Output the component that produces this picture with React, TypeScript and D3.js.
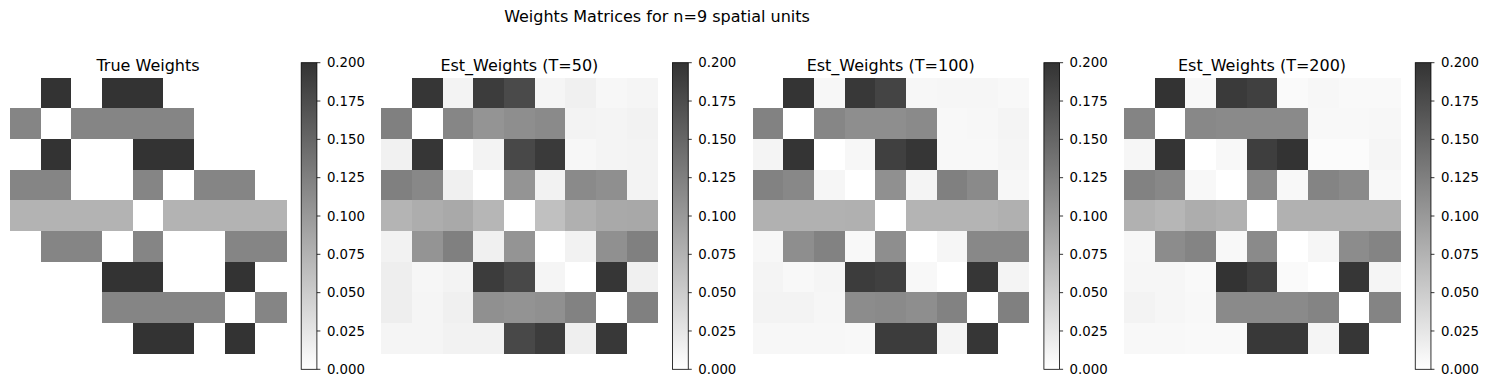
import React from 'react'
import * as d3 from 'd3'

// values read against the colorbar (0 .. 0.200)
const trueWeights = [
  [0, 0.2, 0, 0.2, 0.2, 0, 0, 0, 0],
  [0.12, 0, 0.12, 0.12, 0.12, 0.12, 0, 0, 0],
  [0, 0.2, 0, 0, 0.2, 0.2, 0, 0, 0],
  [0.12, 0.12, 0, 0, 0.12, 0, 0.12, 0.12, 0],
  [0.075, 0.075, 0.075, 0.075, 0, 0.075, 0.075, 0.075, 0.075],
  [0, 0.12, 0.12, 0, 0.12, 0, 0, 0.12, 0.12],
  [0, 0, 0, 0.2, 0.2, 0, 0, 0.2, 0],
  [0, 0, 0, 0.12, 0.12, 0.12, 0.12, 0, 0.12],
  [0, 0, 0, 0, 0.2, 0.2, 0, 0.2, 0]
]

const estT50 = [
  [0, 0.197, 0.012, 0.191, 0.177, 0.010, 0.015, 0.008, 0.010],
  [0.125, 0, 0.119, 0.105, 0.111, 0.115, 0.012, 0.011, 0.013],
  [0.014, 0.197, 0, 0.012, 0.179, 0.193, 0.008, 0.011, 0.012],
  [0.125, 0.117, 0.015, 0, 0.105, 0.013, 0.115, 0.110, 0.012],
  [0.074, 0.080, 0.084, 0.072, 0, 0.062, 0.077, 0.084, 0.085],
  [0.013, 0.105, 0.125, 0.015, 0.105, 0, 0.013, 0.109, 0.125],
  [0.017, 0.009, 0.012, 0.191, 0.179, 0.010, 0, 0.197, 0.015],
  [0.017, 0.010, 0.015, 0.109, 0.106, 0.109, 0.123, 0, 0.125],
  [0.010, 0.010, 0.013, 0.013, 0.179, 0.191, 0.016, 0.195, 0]
]

const estT100 = [
  [0, 0.199, 0.008, 0.195, 0.183, 0.008, 0.009, 0.009, 0.007],
  [0.123, 0, 0.119, 0.111, 0.111, 0.115, 0.007, 0.008, 0.011],
  [0.011, 0.199, 0, 0.008, 0.187, 0.197, 0.007, 0.007, 0.010],
  [0.123, 0.117, 0.009, 0, 0.109, 0.011, 0.125, 0.115, 0.008],
  [0.076, 0.076, 0.076, 0.077, 0, 0.074, 0.074, 0.074, 0.077],
  [0.008, 0.111, 0.123, 0.007, 0.111, 0, 0.009, 0.117, 0.117],
  [0.011, 0.007, 0.010, 0.191, 0.187, 0.007, 0, 0.197, 0.011],
  [0.012, 0.012, 0.009, 0.113, 0.115, 0.111, 0.123, 0, 0.125],
  [0.008, 0.008, 0.008, 0.007, 0.191, 0.191, 0.011, 0.197, 0]
]

const estT200 = [
  [0, 0.200, 0.007, 0.193, 0.187, 0.005, 0.008, 0.006, 0.006],
  [0.121, 0, 0.117, 0.115, 0.115, 0.115, 0.007, 0.007, 0.008],
  [0.009, 0.199, 0, 0.007, 0.189, 0.200, 0.004, 0.004, 0.010],
  [0.123, 0.117, 0.007, 0, 0.115, 0.007, 0.121, 0.115, 0.007],
  [0.076, 0.072, 0.080, 0.076, 0, 0.076, 0.076, 0.076, 0.076],
  [0.008, 0.113, 0.121, 0.007, 0.115, 0, 0.009, 0.113, 0.121],
  [0.009, 0.009, 0.006, 0.200, 0.189, 0.005, 0, 0.197, 0.010],
  [0.012, 0.009, 0.007, 0.115, 0.115, 0.115, 0.121, 0, 0.121],
  [0.007, 0.007, 0.006, 0.006, 0.195, 0.195, 0.010, 0.197, 0]
]

const panelTitles = ['True Weights', 'Est_Weights (T=50)', 'Est_Weights (T=100)', 'Est_Weights (T=200)']
const panelData = [trueWeights, estT50, estT100, estT200]
const colorbarTicks = [0, 0.025, 0.05, 0.075, 0.1, 0.125, 0.15, 0.175, 0.2]
const units = d3.range(9)

const W = 1489
const H = 388
const FONT = 'DejaVu Sans, sans-serif'

const color = d3.scaleLinear<string>()
  .domain([0, 0.2])
  .range(['#ffffff', '#333333'])
  .clamp(true)

const ColorBar = ({ x }: { x: number }) => {
  const top = 62.7
  const bottom = 369.3
  const width = 15.7
  const y = d3.scaleLinear().domain([0, 0.2]).range([bottom, top])
  return (
    <g>
      <rect x={x} y={top} width={width} height={bottom - top} fill='url(#cbgrad)' />
      <rect x={x} y={top} width={width} height={bottom - top} fill='none' stroke='#000' strokeWidth={0.8} />
      {colorbarTicks.map(t => (
        <g key={t} transform={`translate(${x + width},${y(t)})`}>
          <line x1={0} x2={3.5} stroke='#000' strokeWidth={0.8} />
          <text x={10} dy='0.35em' fontSize={13.3} fontFamily={FONT} fill='#000'>{d3.format('.3f')(t)}</text>
        </g>
      ))}
    </g>
  )
}

const Panel = ({ index }: { index: number }) => {
  const left = 10 + index * 371.35
  const size = 276
  const top = 77.7
  const xs = d3.scaleBand<number>().domain(units).range([left, left + size])
  const ys = d3.scaleBand<number>().domain(units).range([top, top + size])
  const data = panelData[index]
  return (
    <g>
      <g shapeRendering='crispEdges'>
        {data.map((row, r) => row.map((v, c) => (
          <rect
            key={`${r}-${c}`}
            x={xs(c)}
            y={ys(r)}
            width={xs.bandwidth() + 0.5}
            height={ys.bandwidth() + 0.5}
            fill={color(v)}
          />
        )))}
      </g>
      <text x={left + size / 2} y={71} textAnchor='middle' fontSize={16} fontFamily={FONT} fill='#000'>
        {panelTitles[index]}
      </text>
      <ColorBar x={left + 291.2} />
    </g>
  )
}

export default function App () {
  return (
    <svg width={W} height={H} style={{ position: 'absolute', left: 0, top: 0, background: '#fff' }}>
      <defs>
        <linearGradient id='cbgrad' x1='0' y1='1' x2='0' y2='0'>
          <stop offset='0%' stopColor={color(0)} />
          <stop offset='100%' stopColor={color(0.2)} />
        </linearGradient>
      </defs>
      <rect width={W} height={H} fill='#fff' />
      <text x={657} y={22} textAnchor='middle' fontSize={16} fontFamily={FONT} fill='#000'>
        Weights Matrices for n=9 spatial units
      </text>
      {panelTitles.map((t, i) => <Panel key={t} index={i} />)}
    </svg>
  )
}
